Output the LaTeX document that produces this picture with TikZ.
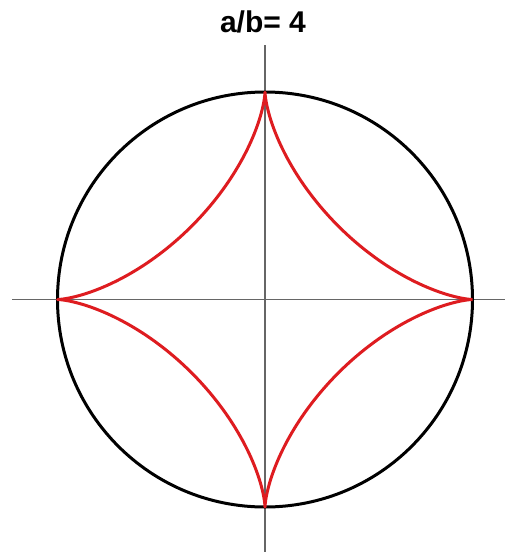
\documentclass[tikz,border=0pt]{standalone}
\usepackage{fontspec}
\setmainfont{Liberation Sans}
\definecolor{astrored}{RGB}{222,28,32}
\begin{document}
\begin{tikzpicture}[x=1pt,y=-1pt,
  axis/.style={draw=gray!80!black,line width=1.4pt},
  circ/.style={draw=black,line width=3pt},
  astro/.style={draw=astrored,line width=3pt,line join=round}]
\useasboundingbox (0,0) rectangle (505,552);
\coordinate (C) at (265,299.5);
\coordinate (L) at (12,299.5);
\coordinate (R) at (505,299.5);
\coordinate (T) at (265,45);
\coordinate (B) at (265,552);
\draw[axis] (L) -- (R);
\draw[axis] (T) -- (B);
\draw[circ] (C) circle (207.5);
\draw[astro] plot[domain=0:360,samples=361,smooth] ({265+207.5*cos(\x)^3},{299.5-207.5*sin(\x)^3});
\node[font=\bfseries\fontsize{30}{32}\selectfont,anchor=base] (title) at (263,32) {a/b= 4};
\end{tikzpicture}
\end{document}
